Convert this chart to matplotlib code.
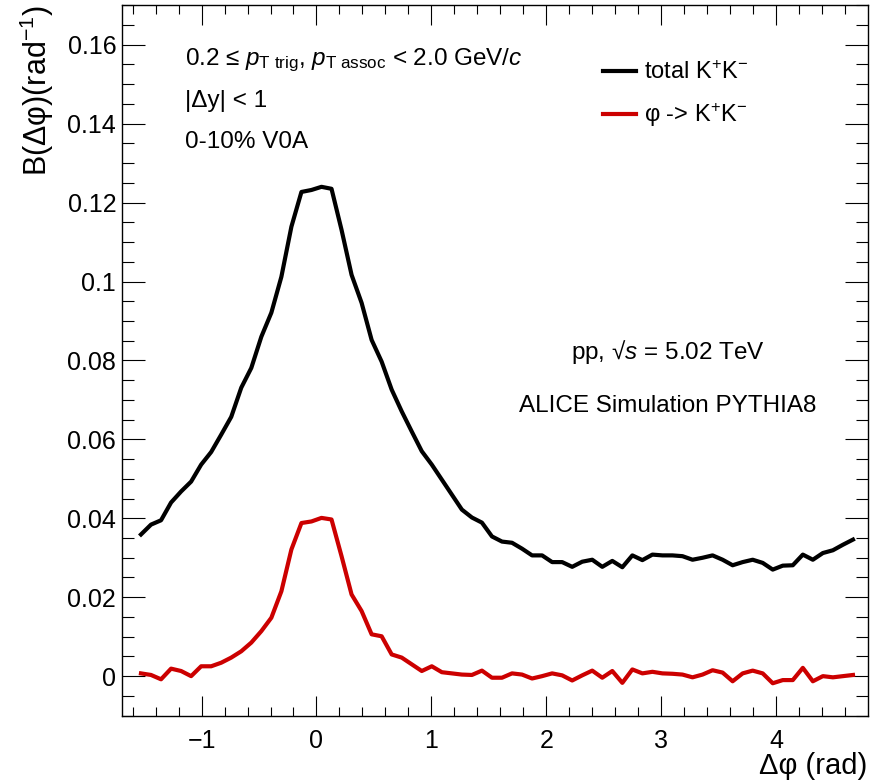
import numpy as np
import matplotlib
matplotlib.use('Agg')
import matplotlib.pyplot as plt
import matplotlib.ticker as mticker

# 72 bins in delta phi, from -pi/2 to 3pi/2
NBINS = 72

total_kk = [0.0359, 0.0384, 0.0395, 0.0440, 0.0468, 0.0493, 0.0536, 0.0568, 0.0612, 0.0657,
            0.0731, 0.0781, 0.0860, 0.0921, 0.1012, 0.1139, 0.1227, 0.1232, 0.1240, 0.1235,
            0.1131, 0.1017, 0.0946, 0.0852, 0.0797, 0.0726, 0.0671, 0.0620, 0.0570, 0.0536,
            0.0498, 0.0460, 0.0422, 0.0402, 0.0389, 0.0354, 0.0341, 0.0338, 0.0323, 0.0306,
            0.0306, 0.0289, 0.0289, 0.0277, 0.0290, 0.0295, 0.0277, 0.0292, 0.0276, 0.0306,
            0.0294, 0.0308, 0.0306, 0.0306, 0.0304, 0.0295, 0.0300, 0.0306, 0.0295, 0.0281,
            0.0289, 0.0295, 0.0287, 0.0270, 0.0280, 0.0281, 0.0308, 0.0295, 0.0312, 0.0319,
            0.0333, 0.0346]

phi_kk = [0.0007, 0.0003, -0.0008, 0.0019, 0.0013, 0.0000, 0.0025, 0.0025, 0.0034, 0.0047,
          0.0063, 0.0085, 0.0114, 0.0148, 0.0215, 0.0321, 0.0388, 0.0392, 0.0401, 0.0397,
          0.0304, 0.0207, 0.0165, 0.0106, 0.0101, 0.0055, 0.0047, 0.0030, 0.0013, 0.0025,
          0.0010, 0.0007, 0.0004, 0.0003, 0.0014, -0.0004, -0.0004, 0.0007, 0.0004, -0.0006,
          0.0000, 0.0007, 0.0002, -0.0011, 0.0002, 0.0014, -0.0004, 0.0013, -0.0017, 0.0017,
          0.0007, 0.0011, 0.0007, 0.0006, 0.0004, -0.0003, 0.0004, 0.0015, 0.0009, -0.0013,
          0.0007, 0.0014, 0.0007, -0.0018, -0.0010, -0.0010, 0.0021, -0.0013, 0.0000, -0.0003,
          0.0000, 0.0003]

FONT = ['Liberation Sans', 'DejaVu Sans']


def main():
   plt.rcParams['font.family'] = FONT
   plt.rcParams['mathtext.fontset'] = 'custom'
   plt.rcParams['mathtext.rm'] = 'Liberation Sans'
   plt.rcParams['mathtext.it'] = 'Liberation Sans:italic'
   plt.rcParams['mathtext.bf'] = 'Liberation Sans:bold'

   width = 2 * np.pi / NBINS
   dphi = -np.pi / 2 + (np.arange(NBINS) + 0.5) * width

   fig = plt.figure(figsize=(8.83, 7.81), dpi=100)
   ax = fig.add_axes([121.7 / 883, 1 - 716 / 781, 746 / 883, 710.7 / 781])

   ax.plot(dphi, total_kk, color='black', lw=3, label='total K$^{+}$K$^{-}$')
   ax.plot(dphi, phi_kk, color='#cc0000', lw=3, label='φ -> K$^{+}$K$^{-}$')

   ax.set_xlim(-1.695, 4.797)
   ax.set_ylim(-0.0101, 0.1700)

   ax.xaxis.set_major_locator(mticker.MultipleLocator(1))
   ax.xaxis.set_minor_locator(mticker.MultipleLocator(0.2))
   ax.yaxis.set_major_locator(mticker.MultipleLocator(0.02))
   ax.yaxis.set_minor_locator(mticker.MultipleLocator(0.005))
   ax.yaxis.set_major_formatter(mticker.FuncFormatter(lambda v, p: '%g' % round(v, 4)))

   ax.tick_params(which='both', direction='in', top=True, right=True, width=0.8, labelsize=18)
   ax.tick_params(axis='y', which='major', length=16.5, pad=4)
   ax.tick_params(axis='y', which='minor', length=8.6)
   ax.tick_params(axis='x', which='major', length=14.4, pad=9)
   ax.tick_params(axis='x', which='minor', length=6.5)
   for sp in ax.spines.values():
      sp.set_linewidth(1.0)

   ax.set_ylabel('B(Δφ)(rad$^{-1}$)', fontsize=22, loc='top', labelpad=8)
   ax.set_xlabel('Δφ (rad)', fontsize=21, loc='right', labelpad=0)

   txtkw = dict(transform=ax.transAxes, fontsize=17.5, va='center')
   ax.text(0.085, 0.923, r'0.2 ≤ $p_{\mathrm{T\ trig}}$, $p_{\mathrm{T\ assoc}}$ < 2.0 GeV/$c$', **txtkw)
   ax.text(0.085, 0.866, '|Δy| < 1', **txtkw)
   ax.text(0.085, 0.807, '0-10% V0A', **txtkw)
   ax.text(0.732, 0.512, 'pp, √$s$ = 5.02 TeV', ha='center', **txtkw)
   ax.text(0.732, 0.436, 'ALICE Simulation PYTHIA8', ha='center', **txtkw)

   ax.legend(loc='upper left', bbox_to_anchor=(0.632, 0.935), frameon=False, fontsize=17,
             handlelength=1.4, handletextpad=0.35, labelspacing=0.75, borderaxespad=0)

   plt.savefig('out.png', dpi=100)
   plt.close()


if __name__ == '__main__':
   main()
